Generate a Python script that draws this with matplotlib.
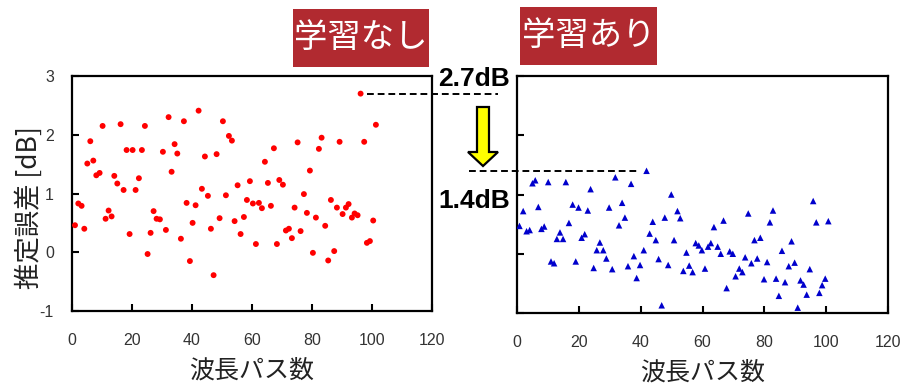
import matplotlib
matplotlib.use("Agg")
from matplotlib import pyplot as plt
from matplotlib.patches import FancyArrow, Rectangle

# 推定誤差 [dB] per wavelength path, without learning (red circles)
x_nolearn = [1.0, 2.1, 3.2, 4.1, 5.1, 6.1, 7.1, 8.1, 9.2, 10.2, 11.2, 12.2, 13.2, 14.1,
             15.1, 16.2, 17.2, 18.2, 19.2, 20.2, 21.2, 22.3, 23.3, 24.3, 25.2, 26.2, 27.2,
             28.2, 29.3, 30.3, 31.3, 32.2, 33.2, 34.2, 35.1, 36.3, 37.3, 38.2, 39.3, 40.2,
             41.2, 42.2, 43.3, 44.3, 45.3, 46.3, 47.2, 48.2, 49.2, 50.3, 51.3, 52.3, 53.3,
             54.2, 55.2, 56.2, 57.3, 58.3, 59.3, 60.3, 61.3, 62.3, 63.3, 64.3, 65.3, 66.3,
             67.3, 68.3, 69.1, 70.3, 71.3, 72.3, 73.3, 74.2, 75.2, 76.2, 77.3, 78.3, 79.3,
             80.3, 81.3, 82.3, 83.2, 84.4, 85.4, 86.3, 87.4, 88.3, 89.2, 90.2, 91.3, 92.2,
             93.3, 94.2, 95.2, 96.2, 97.4, 98.3, 99.3, 100.4, 101.3]
y_nolearn = [0.46, 0.83, 0.79, 0.40, 1.51, 1.89, 1.56, 1.31, 1.35, 2.15, 0.57, 0.71, 0.61, 1.30,
             1.17, 2.18, 1.06, 1.74, 0.31, 1.74, 1.06, 1.26, 1.74, 2.15, -0.03, 0.33, 0.70,
             0.57, 0.56, 1.71, 0.38, 2.30, 1.37, 1.84, 1.68, 0.23, 2.23, 0.84, -0.15, 0.50,
             0.80, 2.41, 1.08, 1.63, 0.96, 0.40, -0.39, 1.67, 0.58, 2.23, 0.97, 1.98, 1.90,
             0.53, 1.14, 0.31, 0.60, 0.89, 1.21, 0.83, 0.14, 0.84, 0.75, 1.54, 1.18, 0.79,
             1.77, 0.14, 1.23, 1.15, 0.37, 0.40, 0.24, 0.76, 1.87, 0.36, 0.99, 0.67, 1.39,
             -0.01, 0.59, 1.76, 1.95, 0.45, -0.14, 0.89, 0.02, 0.76, 1.88, 0.65, 0.76, 0.82,
             0.59, 0.66, 0.63, 2.70, 1.88, 0.16, 0.19, 0.54, 2.17]

# same paths, with learning (blue triangles)
x_learn = [0.8, 2.0, 3.1, 4.1, 5.0, 5.9, 6.9, 7.9, 8.8, 10.1, 11.0, 12.0, 12.9, 13.9, 14.9,
           15.8, 16.8, 18.0, 19.0, 19.9, 20.9, 21.9, 22.9, 23.8, 24.8, 25.8, 26.8, 27.9,
           28.9, 29.8, 30.8, 31.8, 33.0, 34.0, 34.9, 35.9, 36.9, 37.8, 38.7, 39.8, 41.0,
           41.9, 42.9, 43.9, 44.9, 45.8, 46.8, 47.8, 48.9, 49.9, 50.8, 51.9, 52.8, 53.8,
           54.8, 55.7, 56.8, 57.8, 58.8, 59.8, 60.8, 61.8, 62.7, 63.7, 64.9, 65.9, 66.8,
           67.8, 68.8, 69.8, 70.7, 71.9, 72.9, 73.8, 74.8, 75.8, 76.8, 77.7, 78.7, 79.9,
           80.9, 81.8, 82.8, 83.8, 84.7, 85.7, 86.7, 87.9, 88.8, 89.8, 90.8, 91.7, 92.7,
           93.7, 94.7, 95.8, 96.8, 97.8, 98.7, 99.7, 100.7]
y_learn = [0.47, 0.72, 0.38, 0.40, 1.19, 1.24, 0.79, 0.42, 0.46, 1.21, -0.13, -0.16, 0.25,
           0.36, 0.25, 1.21, 0.52, 0.83, -0.13, 0.78, 0.27, 0.33, 0.73, 1.09, -0.24, 0.06,
           0.19, 0.06, -0.08, 0.78, -0.26, 1.29, 0.48, 0.86, 0.61, -0.21, 1.18, -0.04, -0.41,
           -0.19, 0.06, 1.40, 0.34, 0.54, 0.23, -0.09, -0.87, 0.61, -0.19, 1.00, 0.23, 0.72,
           0.60, -0.29, 0.02, -0.20, -0.31, 0.18, 0.14, 0.06, -0.25, 0.12, 0.18, 0.45, 0.12,
           0.00, 0.56, -0.58, 0.04, 0.00, -0.38, -0.25, -0.31, -0.06, 0.68, -0.16, 0.23,
           -0.08, 0.27, -0.43, -0.14, 0.53, 0.73, -0.42, -0.71, 0.05, -0.48, -0.21, 0.21,
           -0.15, -0.91, -0.45, -0.52, -0.69, -0.26, 0.89, 0.53, -0.66, -0.53, -0.42, 0.55]

xticks = [0, 20, 40, 60, 80, 100, 120]
yticks = [-1, 0, 1, 2, 3]

CJK = ['Noto Sans CJK JP', 'DejaVu Sans']
plt.rcParams['font.family'] = ['Liberation Sans', 'Noto Sans CJK JP', 'DejaVu Sans']
plt.rcParams['axes.unicode_minus'] = False

W, H = 902, 390
fig = plt.figure(figsize=(W / 100, H / 100), dpi=100)


def px_axes(l, t, r, b):
    return fig.add_axes([l / W, 1 - b / H, (r - l) / W, (b - t) / H])


def style(ax, show_ylabels):
    ax.set_xlim(0, 120)
    ax.set_ylim(-1, 3)
    ax.set_xticks(xticks)
    ax.set_yticks(yticks)
    ax.tick_params(direction='in', length=5, width=1.5, labelsize=11.5,
                   labelcolor='#333333', pad=16)
    ax.tick_params(axis='y', pad=13)
    if not show_ylabels:
        ax.tick_params(axis='y', labelleft=False)
    for sp in ax.spines.values():
        sp.set_linewidth(1.6)
    ax.set_xlabel('波長パス数', family=CJK, fontsize=18, color='#222222', labelpad=7)


ax1 = px_axes(72, 76, 432, 311)
ax2 = px_axes(517, 76, 888, 313)

ax1.scatter(x_nolearn, y_nolearn, s=18, marker='o', color='#ff0000', edgecolors='none',
            zorder=3)
ax2.scatter(x_learn, y_learn, s=22, marker='^', color='#0000cc', edgecolors='none',
            zorder=3)
style(ax1, True)
style(ax2, False)

fig.text(29 / W, 1 - 208 / H, '推定誤差 [dB]', family=CJK, fontsize=19, color='#222222',
         rotation=90, ha='center', va='center')

# worst-case error levels, dashed out into the gap between the panels
max1 = max(y_nolearn)
xm1 = x_nolearn[y_nolearn.index(max1)]
ax1.plot([xm1 + 2, 142], [max1, max1], ls=(0, (3.5, 2)), color='black', lw=1.4,
         clip_on=False)
max2 = max(y_learn)
xm2 = x_learn[y_learn.index(max2)]
ax2.plot([-15.5, xm2 - 2.5], [max2, max2], ls=(0, (3.5, 2)), color='black', lw=1.4,
         clip_on=False)

fig.text(474 / W, 1 - 79 / H, f'{max1:.1f}dB', fontsize=19, fontweight='bold',
         ha='center', va='center')
fig.text(474 / W, 1 - 201 / H, f'{max2:.1f}dB', fontsize=19, fontweight='bold',
         ha='center', va='center')

fig.patches.append(FancyArrow(483 / W, 1 - 107 / H, 0, -59 / H, width=12 / W,
                              head_width=30 / W, head_length=14 / H,
                              length_includes_head=True, facecolor='#ffff00',
                              edgecolor='black', lw=1.6, transform=fig.transFigure,
                              figure=fig))

# panel headers
for (l, t, r, b), label in [((293, 9, 429, 67), '学習なし'), ((520, 7, 657, 65), '学習あり')]:
    fig.patches.append(Rectangle((l / W, 1 - b / H), (r - l) / W, (b - t) / H,
                                 facecolor='#b12a30', edgecolor='none',
                                 transform=fig.transFigure, figure=fig))
    fig.text((l + r) / 2 / W, 1 - (t + b) / 2 / H, label, family=CJK, fontsize=24,
             color='white', ha='center', va='center')

fig.savefig('out.png', dpi=100)
